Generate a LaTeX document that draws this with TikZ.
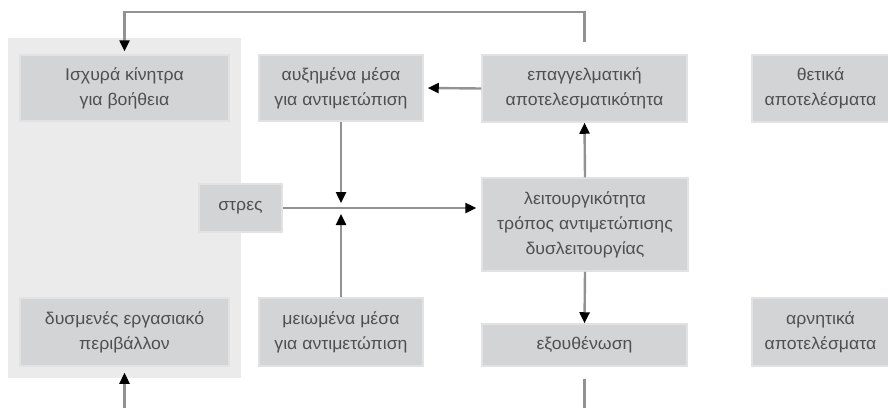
\documentclass[tikz,border=0pt]{standalone}
\usepackage{fontspec}
\setmainfont[FakeStretch=1.04]{Liberation Sans}
\usetikzlibrary{arrows.meta}
\definecolor{panelgray}{HTML}{EBEBEB}
\definecolor{boxgray}{HTML}{D3D4D6}
\definecolor{boxedge}{HTML}{E2E2E3}
\definecolor{linegray}{HTML}{929292}
\definecolor{txtgray}{HTML}{4F4F4F}
\tikzset{
  box/.style={fill=boxgray, draw=boxedge, line width=1.5pt, inner sep=0pt,
    align=center, text=txtgray, font=\fontsize{17}{25}\selectfont},
  conn/.style={draw=linegray, line width=2.4pt},
  arr/.style={conn, -{Triangle[black,width=10pt,length=11pt]}}
}
\begin{document}
\begin{tikzpicture}[x=1pt,y=-1pt]
\useasboundingbox (0,0) rectangle (888,408);
\fill[panelgray] (8,38) rectangle (241,378);
\node[box, minimum width=209pt, minimum height=66pt] (b1) at (124.5,88) {Ισχυρά κίνητρα\\για βοήθεια};
\node[box, minimum width=164pt, minimum height=66pt] (b2) at (341,88) {αυξημένα μέσα\\για αντιμετώπιση};
\node[box, minimum width=205pt, minimum height=67pt] (b3) at (584.5,88.5) {επαγγελματική\\αποτελεσματικότητα};
\node[box, minimum width=137pt, minimum height=67pt] (b4) at (820.5,88.5) {θετικά\\αποτελέσματα};
\node[box, minimum width=83pt, minimum height=48pt] (st) at (240.5,208) {στρες};
\node[box, minimum width=206pt, minimum height=93pt] (b5) at (585,224.5) {λειτουργικότητα\\τρόπος αντιμετώπισης\\δυσλειτουργίας};
\node[box, minimum width=209pt, minimum height=68pt] (b6) at (124.5,332) {δυσμενές εργασιακό\\περιβάλλον};
\node[box, minimum width=164pt, minimum height=68pt] (b7) at (341,332) {μειωμένα μέσα\\για αντιμετώπιση};
\node[box, minimum width=205pt, minimum height=42pt] (b8) at (584.5,345) {εξουθένωση};
\node[box, minimum width=137pt, minimum height=68pt] (b9) at (820.5,332) {αρνητικά\\αποτελέσματα};
\coordinate (top) at (0,12);
\coordinate (bot) at (0,408);
\coordinate (j) at (341,209);
\draw[arr] ([yshift=12pt]b3.north) -- (b3.north |- top) -- (b1.north |- top) -- ([yshift=3pt]b1.north);
\draw[arr] (b3.west) -- ([xshift=4pt]b2.east);
\draw[arr] (st.east) -- ([xshift=-5pt]st.east -| b5.west);
\draw[arr] (b2.south) -- ([yshift=6pt]j);
\draw[arr] (b7.north) -- ([yshift=-5pt]j);
\draw[arr] (b5.north) -- (b3.south);
\draw[arr] (b5.south) -- (b8.north);
\draw[arr] (b6.south |- bot) -- ([yshift=-6pt]b6.south);
\draw[conn] ([yshift=-12pt]b8.south) -- (b8.south |- bot);
\end{tikzpicture}
\end{document}
